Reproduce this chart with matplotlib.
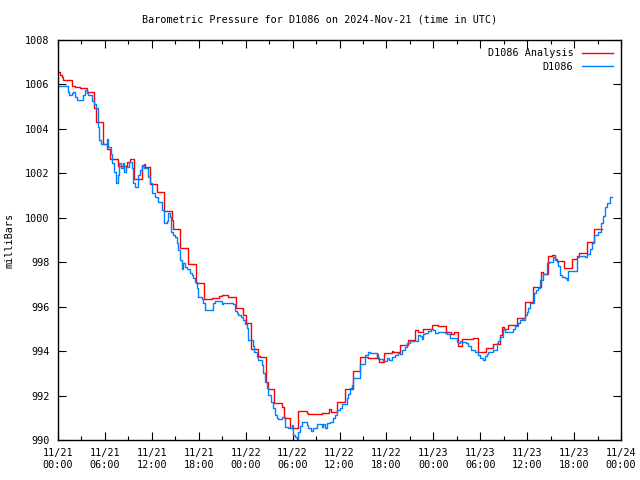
import numpy as np
import matplotlib
matplotlib.use('Agg')
import matplotlib.pyplot as plt
from matplotlib.ticker import MultipleLocator

# hours since 2024-11-21 00:00 UTC, pressure in mbar (step series)
ana_t = [0.0, 0.26, 0.47, 0.68, 1.75, 2.17, 2.81, 3.67, 4.64, 4.82, 5.72, 6.23,
         6.65, 7.71, 8.79, 9.21, 9.72, 10.70, 11.00, 11.13, 11.77, 12.62, 13.59,
         14.54, 14.75, 15.60, 16.66, 17.65, 18.67, 19.73, 20.59, 21.01, 21.70,
         22.73, 23.70, 24.00, 24.64, 25.62, 25.84, 26.60, 26.90, 27.62, 28.61,
         28.90, 29.67, 30.66, 31.81, 32.01, 33.72, 34.70, 34.91, 35.64, 36.70,
         37.77, 38.62, 39.69, 40.76, 40.89, 41.10, 41.74, 42.68, 42.88, 43.74,
         44.72, 45.66, 46.00, 46.72, 47.79, 48.63, 49.62, 50.26, 50.68, 51.19,
         51.63, 53.11, 53.67, 54.74, 55.67, 56.53, 56.83, 57.04, 57.60, 58.66,
         59.73, 60.79, 61.73, 61.98, 62.70, 63.13, 63.55, 63.77, 64.71, 65.70,
         66.33, 66.67, 67.69, 68.55, 69.61]
ana_p = [1006.55, 1006.42, 1006.32, 1006.20, 1005.94, 1005.90, 1005.85, 1005.65,
         1004.93, 1004.30, 1003.32, 1003.08, 1002.66, 1002.33, 1002.52, 1002.63,
         1001.74, 1002.33, 1002.42, 1002.30, 1001.52, 1001.17, 1000.30, 999.90,
         999.48, 998.63, 997.92, 997.05, 996.34, 996.40, 996.48, 996.52, 996.42,
         995.94, 995.62, 995.25, 994.08, 993.78, 993.75, 992.62, 992.28, 991.65,
         991.48, 990.98, 990.53, 991.30, 991.20, 991.15, 991.20, 991.38, 991.24,
         991.71, 992.28, 993.10, 993.75, 993.67, 993.85, 993.70, 993.49, 993.90,
         994.00, 993.97, 994.27, 994.48, 994.95, 994.84, 994.98, 995.17, 995.13,
         994.84, 994.77, 994.84, 994.23, 994.53, 994.57, 993.94, 994.12, 994.32,
         994.72, 995.08, 994.99, 995.16, 995.50, 996.19, 996.87, 997.56, 997.47,
         998.28, 998.34, 998.15, 998.05, 997.72, 998.14, 998.28, 998.40, 998.89,
         999.48, 999.48]

obs_t = [0.0, 1.24, 1.41, 1.75, 1.96, 2.17, 2.39, 3.24, 3.45, 3.67, 3.88, 4.31,
         4.64, 4.82, 5.07, 5.24, 5.50, 6.23, 6.43, 6.78, 6.95, 7.20, 7.38, 7.63,
         7.80, 8.06, 8.27, 8.48, 8.66, 9.08, 9.43, 9.63, 9.85, 10.27, 10.49, 10.78,
         11.04, 11.55, 11.77, 11.98, 12.41, 12.83, 13.34, 13.59, 13.90, 14.11,
         14.32, 14.45, 14.75, 14.96, 15.18, 15.39, 15.60, 15.82, 16.03, 16.24,
         16.46, 16.88, 17.10, 17.30, 17.52, 17.74, 17.94, 18.38, 18.58, 18.80,
         19.86, 20.08, 20.94, 21.14, 22.42, 22.64, 22.85, 23.06, 23.40, 23.70,
         23.92, 24.13, 24.30, 24.90, 25.07, 25.41, 25.62, 26.05, 26.26, 26.47,
         26.69, 26.90, 27.20, 27.46, 27.75, 27.97, 28.18, 28.61, 29.03, 29.46,
         29.88, 30.09, 30.31, 30.52, 30.73, 30.95, 31.17, 31.81, 32.01, 32.36,
         32.65, 33.09, 33.72, 33.93, 34.15, 34.36, 34.79, 35.21, 35.43, 35.64,
         36.07, 36.28, 36.92, 37.13, 37.35, 37.56, 37.77, 38.62, 39.26, 39.69,
         39.90, 40.76, 40.96, 41.60, 42.04, 42.33, 42.68, 43.10, 43.52, 43.74,
         43.95, 44.38, 44.59, 45.02, 46.00, 46.30, 46.51, 46.72, 46.94, 47.36,
         47.70, 48.00, 48.21, 48.63, 49.49, 49.71, 50.13, 50.98, 51.19, 51.41,
         51.63, 52.14, 52.48, 52.83, 53.34, 53.76, 53.97, 54.40, 54.61, 54.82,
         55.03, 55.67, 56.10, 56.31, 56.53, 56.87, 57.17, 58.23, 58.45, 58.87,
         59.08, 59.30, 59.51, 59.73, 59.94, 60.15, 60.37, 60.88, 61.13, 61.43,
         61.64, 61.98, 62.58, 62.84, 63.35, 63.61, 63.77, 63.99, 64.20, 64.42,
         64.84, 65.05, 65.26, 66.41, 66.67, 67.40, 67.61, 68.04, 68.25, 68.55,
         69.10, 69.40, 69.74, 69.96, 70.17, 70.59, 70.81]
obs_p = [1005.93, 1005.65, 1005.52, 1005.60, 1005.65, 1005.45, 1005.30, 1005.52,
         1005.75, 1005.60, 1005.52, 1005.27, 1005.10, 1004.93, 1004.10, 1003.50,
         1003.32, 1003.53, 1003.17, 1002.85, 1002.45, 1002.07, 1001.55, 1001.92,
         1002.45, 1002.22, 1002.45, 1002.07, 1002.30, 1002.52, 1002.22, 1001.55,
         1001.40, 1001.92, 1002.15, 1002.38, 1002.22, 1001.85, 1001.55, 1001.10,
         1000.95, 1000.72, 1000.35, 999.75, 999.85, 1000.20, 1000.05, 999.37,
         999.22, 999.15, 998.85, 998.55, 998.10, 997.68, 997.95, 997.80, 997.68,
         997.53, 997.43, 997.27, 997.12, 996.82, 996.45, 996.33, 996.18, 995.85,
         996.15, 996.27, 996.12, 996.17, 996.12, 995.82, 995.73, 995.63, 995.52,
         995.40, 995.22, 995.03, 994.48, 994.25, 993.97, 993.72, 993.60, 993.38,
         993.00, 992.62, 992.33, 992.02, 991.73, 991.43, 991.12, 990.98, 990.93,
         991.05, 990.60, 990.55, 990.67, 990.22, 990.15, 990.05, 990.35, 990.63,
         990.82, 990.67, 990.53, 990.42, 990.53, 990.70, 990.60, 990.70, 990.55,
         990.75, 990.82, 990.98, 991.12, 991.33, 991.43, 991.61, 991.87, 992.07,
         992.33, 992.48, 992.77, 993.40, 993.82, 993.97, 993.90, 993.80, 993.64,
         993.57, 993.67, 993.60, 993.75, 993.82, 993.92, 993.89, 994.05, 994.20,
         994.35, 994.47, 994.72, 994.67, 994.53, 994.75, 994.80, 994.90, 994.98,
         994.93, 994.80, 994.88, 994.80, 994.77, 994.57, 994.42, 994.35, 994.47,
         994.42, 994.35, 994.23, 994.05, 993.97, 993.82, 993.67, 993.60, 993.78,
         993.87, 993.97, 994.05, 994.35, 994.47, 994.65, 994.98, 994.88, 995.00,
         995.13, 995.28, 995.40, 995.47, 995.40, 995.62, 995.77, 995.92, 996.18,
         996.60, 996.75, 996.82, 997.20, 997.45, 997.95, 998.02, 998.22, 998.10,
         998.02, 997.83, 997.43, 997.35, 997.30, 997.20, 997.60, 998.22, 998.28,
         998.22, 998.37, 998.60, 998.85, 999.22, 999.35, 999.75, 1000.10, 1000.50,
         1000.65, 1000.92, 1000.92]

xtick_hours = list(range(0, 73, 6))
xtick_labels = ['11/21\n00:00', '11/21\n06:00', '11/21\n12:00', '11/21\n18:00',
                '11/22\n00:00', '11/22\n06:00', '11/22\n12:00', '11/22\n18:00',
                '11/23\n00:00', '11/23\n06:00', '11/23\n12:00', '11/23\n18:00',
                '11/24\n00:00']

plt.rcParams['font.family'] = 'DejaVu Sans Mono'
plt.rcParams['font.size'] = 7.3

fig = plt.figure(figsize=(6.4, 4.8), dpi=100)
ax = fig.add_axes([58/640, 40/480, 563/640, 400/480])

ax.step(ana_t, ana_p, where='post', color='#ff0000', lw=1.0, label='D1086 Analysis')
ax.step(obs_t, obs_p, where='post', color='#0080ff', lw=1.0, label='D1086')

ax.set_xlim(0, 72)
ax.set_ylim(990, 1008)
ax.set_xticks(xtick_hours)
ax.set_xticklabels(xtick_labels)
ax.xaxis.set_minor_locator(MultipleLocator(3))
ax.set_yticks(np.arange(990, 1009, 2))
ax.tick_params(which='both', direction='in', top=True, right=True, width=0.8)
ax.tick_params(which='major', length=6, pad=6)
ax.tick_params(which='minor', length=3)
for s in ax.spines.values():
    s.set_linewidth(1.0)

ax.set_ylabel('milliBars', labelpad=8)
fig.text(0.5, 1 - 20/480, 'Barometric Pressure for D1086 on 2024-Nov-21 (time in UTC)',
         ha='center', va='center')

leg = ax.legend(loc='upper right', frameon=False, markerfirst=False,
                handlelength=3.0, handletextpad=0.9, borderaxespad=0.4,
                labelspacing=0.35)
for t in leg.get_texts():
    t.set_ha('right')

fig.savefig('out.png', dpi=100)
